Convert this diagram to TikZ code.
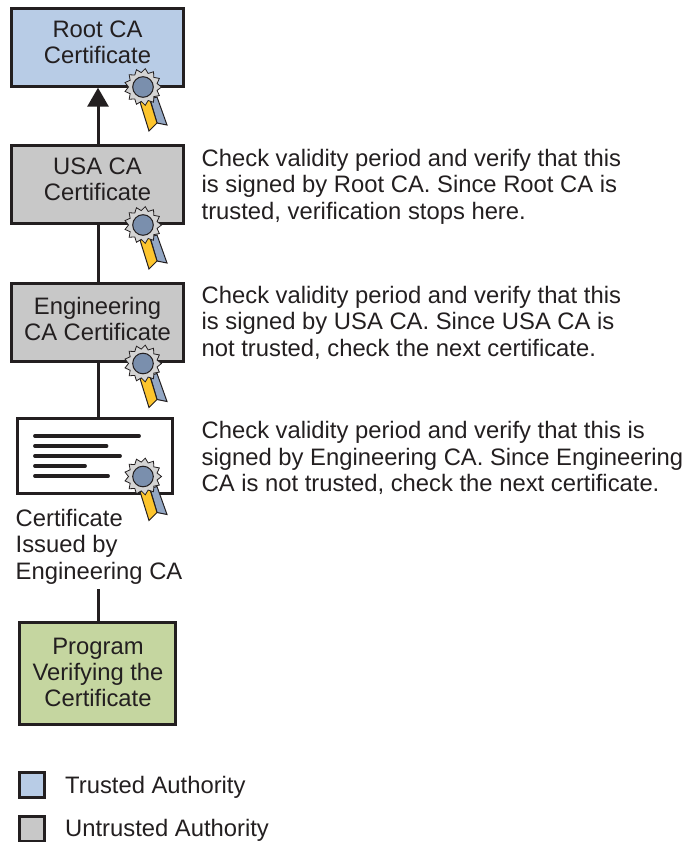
\documentclass[tikz,border=0pt]{standalone}
\usepackage{fontspec}
\setmainfont{Liberation Sans}
\usetikzlibrary{arrows.meta}
\definecolor{trusted}{HTML}{B8CCE6}
\definecolor{untrusted}{HTML}{C8C8C8}
\definecolor{prog}{HTML}{C5D6A0}
\definecolor{inkc}{HTML}{231F20}
\definecolor{sealg}{HTML}{D4D4D4}
\definecolor{sealb}{HTML}{7A8FAD}
\definecolor{ribb}{HTML}{93A7C4}
\definecolor{riby}{HTML}{FDC52D}
\tikzset{
  x=1pt,y=-1pt,
  boxn/.style={draw=inkc,line width=3pt,minimum width=#1,inner sep=0pt},
  boxlab/.style={anchor=north,align=center,text=inkc,font=\fontsize{23.8}{26}\selectfont,inner sep=0pt},
  txt/.style={anchor=north west,align=left,text=inkc,font=\fontsize{23.8}{26.3}\selectfont,inner sep=0pt},
  link/.style={draw=inkc,line width=3pt},
  seal/.pic={
    \draw[inkc,line width=1pt,fill=ribb] (7,12)--(14,10)--(24,38)--(14,36)--cycle;
    \draw[inkc,line width=1pt,fill=riby] (-3,15)--(7,13)--(14,36)--(6,44)--cycle;
    \draw[inkc,line width=.8pt,fill=sealg]
      (0:18.5)
      \foreach \a in {1,...,13}{ -- ({(\a-.5)*360/13}:14.5) -- ({\a*360/13}:18.5)} -- cycle;
    \draw[inkc,line width=1pt,fill=sealb] (0,0) circle (10.3);
  }
}
\begin{document}
\begin{tikzpicture}
\useasboundingbox (0,0) rectangle (688,842);
\node[boxn=172pt,fill=trusted,minimum height=78pt] (root) at (97.5,47.2) {};
\node[boxn=172pt,fill=untrusted,minimum height=78pt] (usa) at (97.5,184.5) {};
\node[boxn=172pt,fill=untrusted,minimum height=78pt] (eng) at (97.5,322.5) {};
\node[boxn=155pt,fill=white,minimum height=75.5pt] (cert) at (94.5,456) {};
\node[boxn=156pt,fill=prog,minimum height=102pt] (prog) at (97.8,673.2) {};
\node[boxlab] (rootl) at (97.5,20.4) {Root CA\\Certificate};
\node[boxlab] (usal) at (97.5,157.4) {USA CA\\Certificate};
\node[boxlab] (engl) at (97.5,296.7) {Engineering\\CA Certificate};
\node[boxlab] (progl) at (98,637.7) {Program\\Verifying the\\Certificate};
\coordinate (axis) at (98,0);
\node[txt] (lab) at (15.5,509) {Certificate\\Issued by\\Engineering CA};
\coordinate (labbot) at (98,589);
\draw[link,-{Triangle[length=19pt,width=21pt]}] (usa.north -| axis) -- (root.south -| axis);
\draw[link] (eng.north -| axis) -- (usa.south -| axis);
\draw[link] (cert.north -| axis) -- (eng.south -| axis);
\draw[link] (prog.north -| axis) -- (labbot);
\draw[inkc,line width=3.8pt,line cap=round]
  (35,436)--(139,436) (35,446)--(106.5,446) (35,456)--(120,456) (35,466)--(85,466) (35,476)--(108,476);
\pic at (143,87) {seal};
\pic at (143,225) {seal};
\pic at (143,363.5) {seal};
\pic at (143,476.5) {seal};
\node[txt] (t1) at (201.5,149) {Check validity period and verify that this\\is signed by Root CA. Since Root CA is\\trusted, verification stops here.};
\node[txt] (t2) at (201.5,286) {Check validity period and verify that this\\is signed by USA CA. Since USA CA is\\not trusted, check the next certificate.};
\node[txt] (t3) at (201.5,421.3) {Check validity period and verify that this is\\signed by Engineering CA. Since Engineering\\CA is not trusted, check the next certificate.};
\node[boxn=25pt,fill=trusted,minimum height=25pt] (l1) at (32,785) {};
\node[boxn=25pt,fill=untrusted,minimum height=25pt] (l2) at (32,828.5) {};
\node[txt,anchor=west] (lt1) at (65,787.2) {Trusted Authority};
\node[txt,anchor=west] (lt2) at (65,830.5) {Untrusted Authority};
\end{tikzpicture}
\end{document}
